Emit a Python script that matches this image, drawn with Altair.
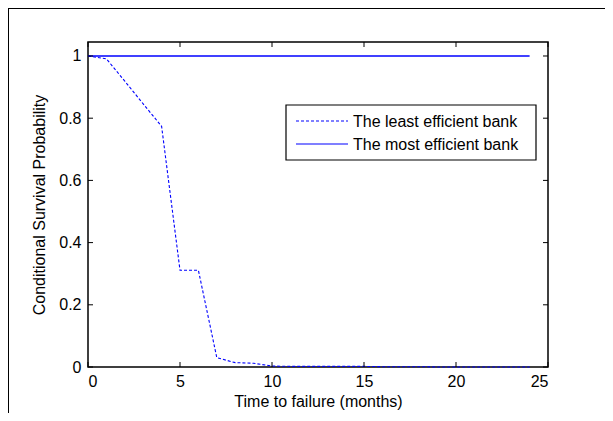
import altair as alt
import pandas as pd

# ---- data ----
months = list(range(25))
least_efficient = [1.000, 0.991, 0.919, 0.846, 0.774, 0.311, 0.311, 0.030, 0.014, 0.012,
                   0.003, 0.002, 0.002, 0.002, 0.002, 0.002, 0.001, 0.001, 0.001, 0.000,
                   0.000, 0.000, 0.000, 0.000, 0.000]
most_efficient = [1.0] * 25
series_names = ["The least efficient bank", "The most efficient bank"]
x_ticks = [0, 5, 10, 15, 20, 25]
y_ticks = [0, 0.2, 0.4, 0.6, 0.8, 1]

df_least = pd.DataFrame({"month": months, "prob": least_efficient})
df_most = pd.DataFrame({"month": months, "prob": most_efficient})

W, H = 460, 325
FONT = "Liberation Sans"
FS = 16
BLUE = "#0000ff"
DASH = [3, 2]

xscale = alt.Scale(domain=[0, 25], nice=False, zero=False)
yscale = alt.Scale(domain=[0, 1.045], nice=False)

xaxis = alt.Axis(values=x_ticks, title="Time to failure (months)", grid=False, domain=False,
                 ticks=False, labelPadding=6, labelFont=FONT, labelFontSize=FS, labelColor="black",
                 titleFont=FONT, titleFontSize=FS, titleFontWeight="normal", titleColor="black",
                 titlePadding=4, format="d")
yaxis = alt.Axis(values=y_ticks, title="Conditional Survival Probability", grid=False, domain=False,
                 ticks=False, labelPadding=7, labelFont=FONT, labelFontSize=FS, labelColor="black",
                 titleFont=FONT, titleFontSize=FS, titleFontWeight="normal", titleColor="black",
                 titlePadding=11,
                 labelExpr="datum.value == 0 ? '0' : datum.value == 1 ? '1' : format(datum.value, '.1f')")

line_least = alt.Chart(df_least).mark_line(strokeWidth=1.1, color=BLUE, strokeDash=DASH).encode(
    x=alt.X("month:Q", scale=xscale, axis=xaxis),
    y=alt.Y("prob:Q", scale=yscale, axis=yaxis),
)
line_most = alt.Chart(df_most).mark_line(strokeWidth=1.5, color=BLUE).encode(
    x=alt.X("month:Q", scale=xscale, axis=xaxis),
    y=alt.Y("prob:Q", scale=yscale, axis=yaxis),
)

xt = pd.DataFrame({"month": x_ticks})
yt = pd.DataFrame({"prob": y_ticks})

bottom_ticks = alt.Chart(xt).mark_rule(color="black", strokeWidth=1).encode(
    x=alt.X("month:Q", scale=xscale, axis=xaxis), y=alt.value(H), y2=alt.value(H - 5))
top_ticks = alt.Chart(xt).mark_rule(color="black", strokeWidth=1).encode(
    x=alt.X("month:Q", scale=xscale, axis=xaxis), y=alt.value(0), y2=alt.value(5))
left_ticks = alt.Chart(yt).mark_rule(color="black", strokeWidth=1).encode(
    y=alt.Y("prob:Q", scale=yscale, axis=yaxis), x=alt.value(0), x2=alt.value(5))
right_ticks = alt.Chart(yt).mark_rule(color="black", strokeWidth=1).encode(
    y=alt.Y("prob:Q", scale=yscale, axis=yaxis), x=alt.value(W - 5), x2=alt.value(W))

dummy = pd.DataFrame({"k": [0]})
border_left = alt.Chart(dummy).mark_rule(color="black", strokeWidth=1).encode(
    x=alt.value(-79.5), y=alt.value(-34), y2=alt.value(H + 60))
border_top = alt.Chart(dummy).mark_rule(color="black", strokeWidth=1).encode(
    y=alt.value(-33.5), x=alt.value(-80), x2=alt.value(W + 60))

# ---- legend (MATLAB style box) ----
LX0, LX1, LY0, LY1 = 198, 448, 63, 118
ROW_Y = [79, 102]
legend_box = alt.Chart(dummy).mark_rect(fill="white", stroke="black", strokeWidth=1.2).encode(
    x=alt.value(LX0), x2=alt.value(LX1), y=alt.value(LY0), y2=alt.value(LY1))
legend_layers = []
for i, name in enumerate(series_names):
    dash = DASH if i == 0 else [1, 0]
    ld = pd.DataFrame({"series": [name]})
    legend_layers.append(
        alt.Chart(ld).mark_rule(color=BLUE, strokeWidth=1.2, strokeDash=dash).encode(
            x=alt.value(LX0 + 10), x2=alt.value(LX0 + 62), y=alt.value(ROW_Y[i]))
    )
    legend_layers.append(
        alt.Chart(ld).mark_text(align="left", baseline="middle", font=FONT, fontSize=FS,
                                color="black").encode(
            x=alt.value(LX0 + 67), y=alt.value(ROW_Y[i] + 1), text="series:N")
    )

chart = alt.layer(line_least, line_most, bottom_ticks, top_ticks, left_ticks, right_ticks,
                  border_left, border_top, legend_box, *legend_layers).properties(
    width=W, height=H,
    autosize=alt.AutoSizeParams(type="none"),
    padding={"left": 80, "top": 34, "right": 57, "bottom": 46},
    background="white",
).configure_view(stroke="black", strokeWidth=1.5)

chart.save("out.html", embed_options={"renderer": "svg", "actions": False})
